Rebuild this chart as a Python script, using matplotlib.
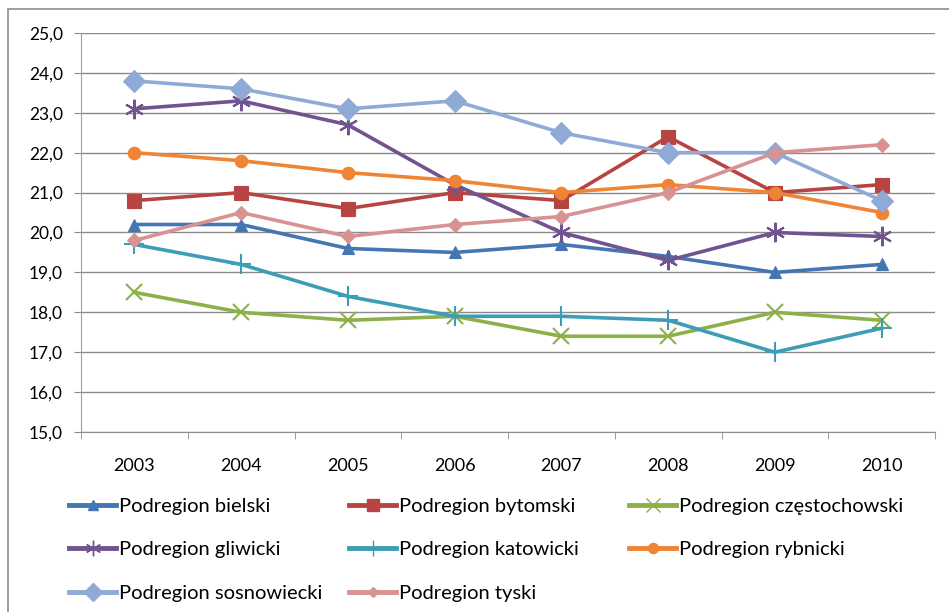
import matplotlib
matplotlib.use("Agg")
import matplotlib.pyplot as plt
from matplotlib.lines import Line2D
from matplotlib.patches import Rectangle

plt.rcParams['font.family'] = ['Lato', 'DejaVu Sans']

years = ['2003', '2004', '2005', '2006', '2007', '2008', '2009', '2010']

bielski = [20.2, 20.2, 19.6, 19.5, 19.7, 19.4, 19.0, 19.2]
bytomski = [20.8, 21.0, 20.6, 21.0, 20.8, 22.4, 21.0, 21.2]
czestochowski = [18.5, 18.0, 17.8, 17.9, 17.4, 17.4, 18.0, 17.8]
gliwicki = [23.1, 23.3, 22.7, 21.2, 20.0, 19.3, 20.0, 19.9]
katowicki = [19.7, 19.2, 18.4, 17.9, 17.9, 17.8, 17.0, 17.6]
rybnicki = [22.0, 21.8, 21.5, 21.3, 21.0, 21.2, 21.0, 20.5]
sosnowiecki = [23.8, 23.6, 23.1, 23.3, 22.5, 22.0, 22.0, 20.8]
tyski = [19.8, 20.5, 19.9, 20.2, 20.4, 21.0, 22.0, 22.2]

names = ['Podregion bielski', 'Podregion bytomski', 'Podregion częstochowski',
         'Podregion gliwicki', 'Podregion katowicki', 'Podregion rybnicki',
         'Podregion sosnowiecki', 'Podregion tyski']
series = [bielski, bytomski, czestochowski, gliwicki, katowicki, rybnicki, sosnowiecki, tyski]
colors = ['#4576B4', '#B84441', '#8DB04A', '#71548F', '#3E9DB6', '#EE8434', '#8FAAD6', '#D79291']
markers = ['^', 's', 'x', (6, 2, 0), '+', 'o', 'D', 'D']
msizes = [9, 10, 12, 14, 14, 9, 11, 7]

fig = plt.figure(figsize=(9.49, 6.12), dpi=100)
fig.patches.append(Rectangle((8 / 949, -0.1), 1.2, (612 - 9) / 612 + 0.1, transform=fig.transFigure,
                             fill=False, edgecolor='#8c8c8c', linewidth=1.2))
ax = fig.add_axes([81 / 949, (612 - 432) / 612, (935 - 81) / 949, (432 - 33) / 612])

x = list(range(len(years)))
lines = []
for name, vals, c, m, ms in zip(names, series, colors, markers, msizes):
    ln, = ax.plot(x, vals, color=c, linewidth=2.6, marker=m, markersize=ms,
                  markeredgewidth=1.5 if m in ('x', '+') or isinstance(m, tuple) else 0.8,
                  markeredgecolor=c, label=name)
    lines.append(ln)

ax.set_xlim(-0.5, len(years) - 0.5)
ax.set_ylim(15, 25)
ax.set_yticks(range(15, 26))
ax.set_yticklabels([f'{v},0' for v in range(15, 26)])
ax.set_xticks(x)
ax.set_xticklabels(years)
ax.set_xticks([i - 0.5 for i in range(len(years) + 1)], minor=True)
ax.tick_params(axis='x', which='major', length=0, pad=19, labelsize=13)
ax.tick_params(axis='x', which='minor', length=5, color='#8c8c8c')
ax.tick_params(axis='y', length=5, color='#8c8c8c', pad=8, labelsize=12.5)
ax.grid(axis='y', color='#8a8a8a', linewidth=1.0)
ax.set_axisbelow(True)
for s in ['top', 'right']:
    ax.spines[s].set_visible(False)
ax.spines['left'].set_color('#a0a0a0')
ax.spines['bottom'].set_color('#8c8c8c')

# legend laid out row-wise like the original, one legend per column
col_x = [69 / 949, 349 / 949, 629 / 949]
for col in range(3):
    hs = [Line2D([], [], color=lines[i].get_color(), linewidth=3.5, marker=lines[i].get_marker(),
                 markersize=lines[i].get_markersize() * 0.8, markeredgewidth=1.0,
                 markeredgecolor=lines[i].get_color())
          for i in range(col, 8, 3)]
    leg = fig.legend(hs, [names[i] for i in range(col, 8, 3)], loc='upper left',
                     bbox_to_anchor=(col_x[col], (612 - 498) / 612), frameon=False,
                     fontsize=14.5, handlelength=2.35, handletextpad=0.15,
                     labelspacing=1.3, borderaxespad=0, borderpad=0)

fig.savefig('out.png', dpi=100)
